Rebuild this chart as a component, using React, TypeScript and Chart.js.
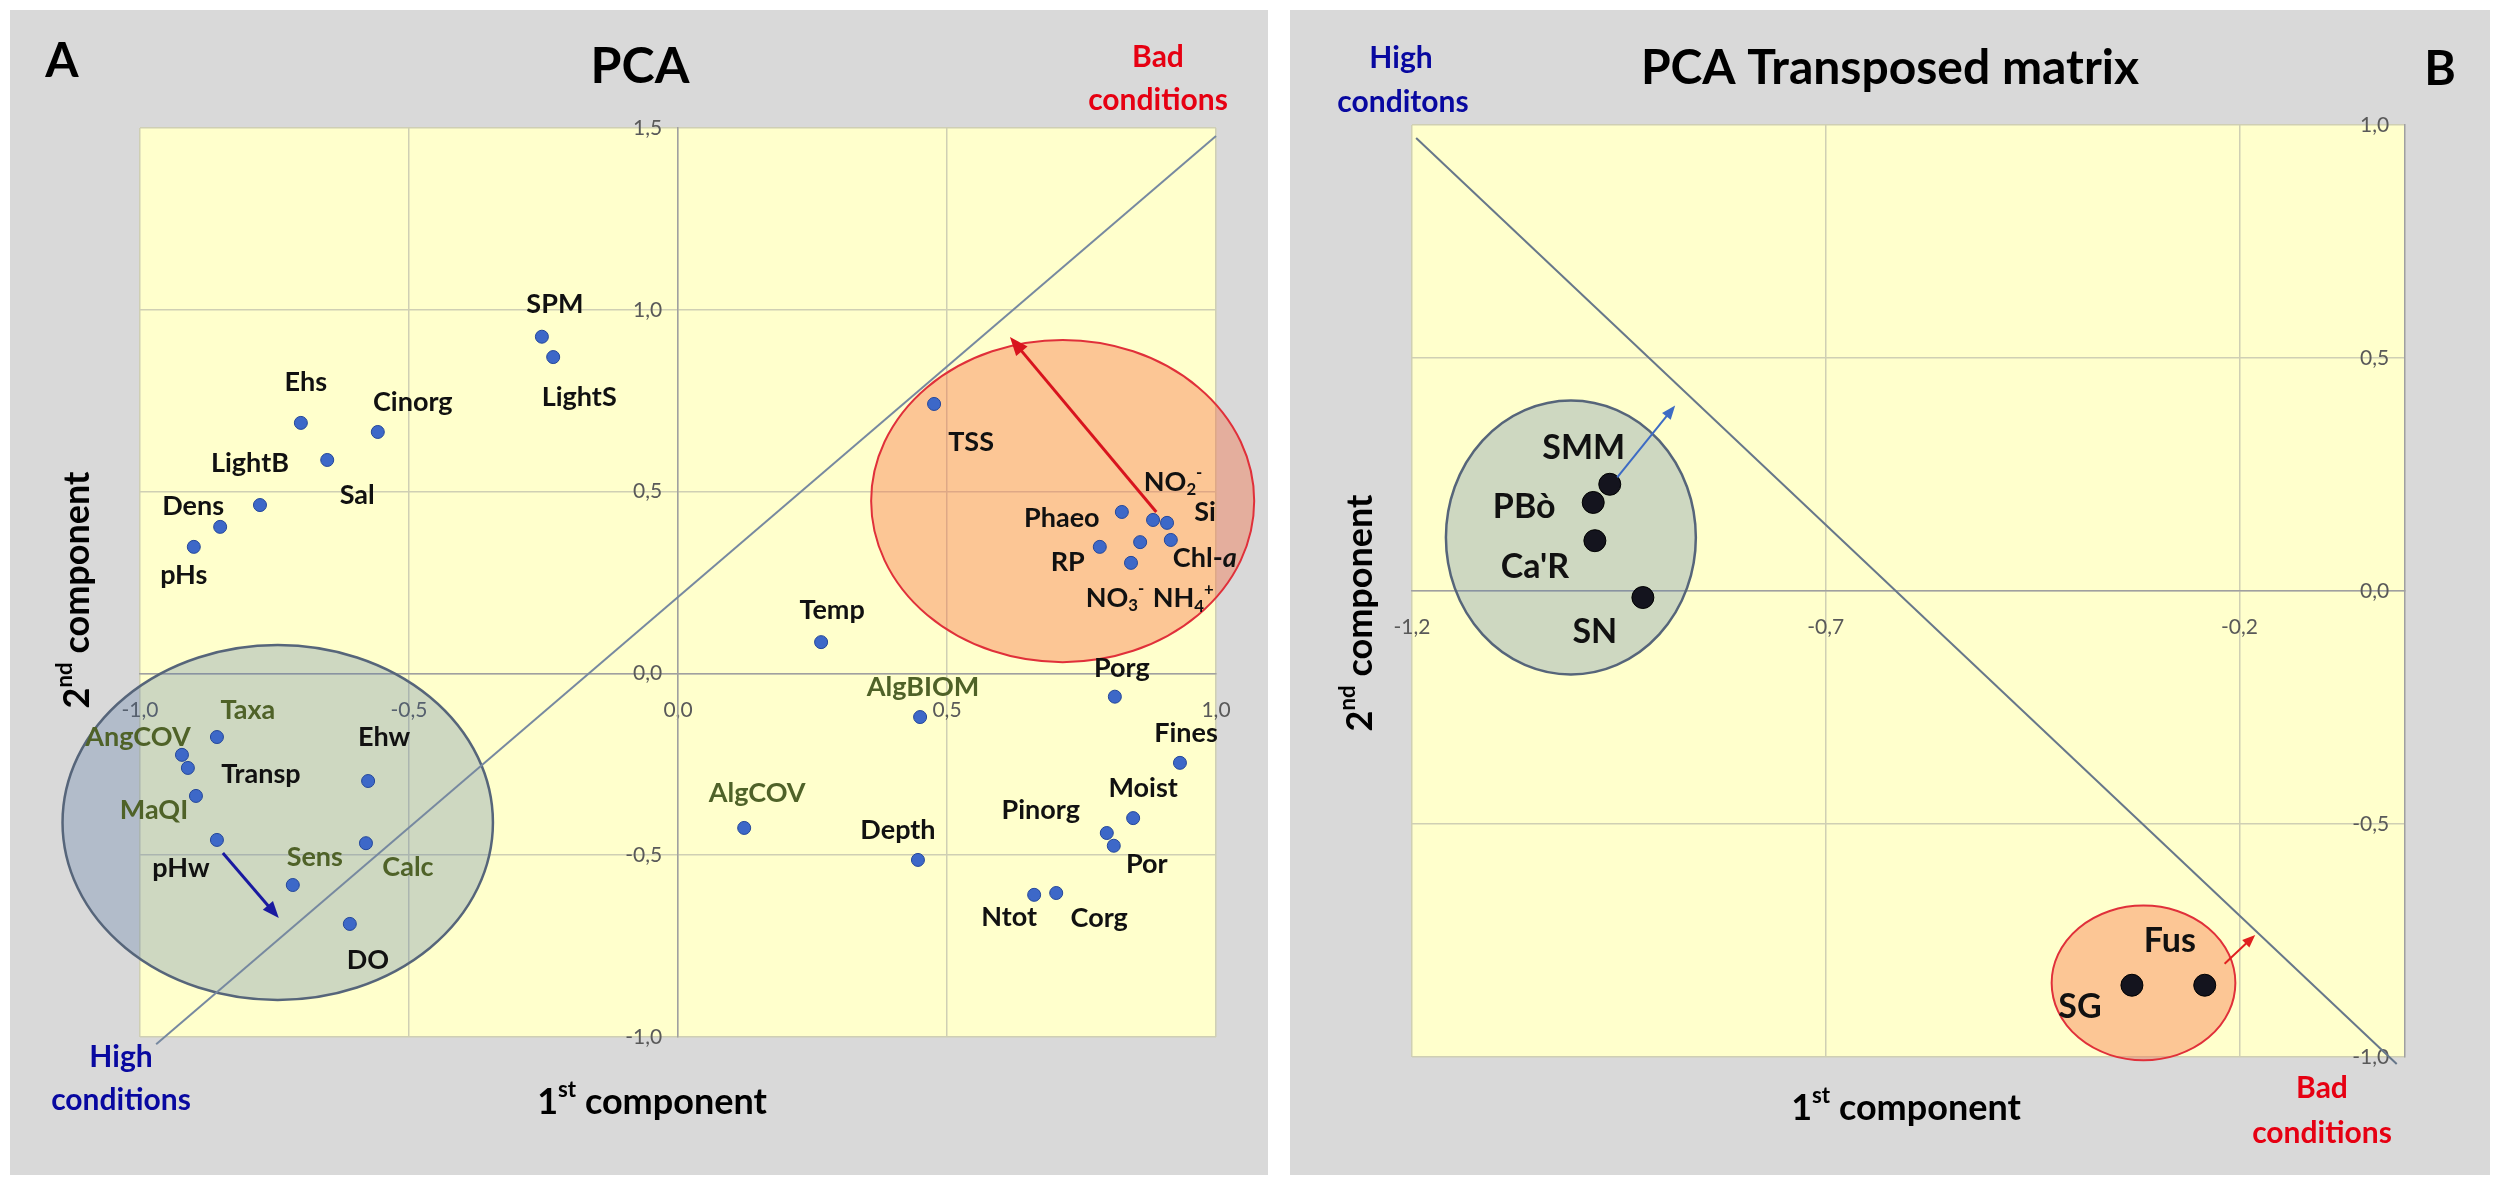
import React, { useEffect, useRef } from 'react';
import { Chart, registerables } from 'chart.js';
Chart.register(...registerables);

const FONT = "Lato, 'Open Sans', 'DejaVu Sans', sans-serif";
const PANEL_BG = '#d9d9d9';
const PLOT_BG = '#ffffcc';
const GRID = '#cfcfb4';
const AXIS = '#a0a0a0';
const TICK = '#595959';
const GREEN_TXT = '#4f6228';
const RED_TXT = '#e60012';
const BLUE_TXT = '#0808a0';

// ---------- Panel A: PCA ----------
const namesA = ['SPM', 'LightS', 'Ehs', 'Cinorg', 'Sal', 'LightB', 'Dens', 'pHs', 'TSS',
  'Phaeo', 'NO_{2}^{-}', 'Si', 'Chl-*{a}', 'NH_{4}^{+}', 'NO_{3}^{-}', 'RP',
  'Temp', 'AlgBIOM', 'Porg', 'Fines', 'AlgCOV', 'Depth', 'Moist', 'Pinorg', 'Por', 'Ntot', 'Corg',
  'Taxa', 'AngCOV', 'Transp', 'MaQI', 'pHw', 'Ehw', 'Calc', 'Sens', 'DO'];
const pc1A = [-0.253, -0.232, -0.701, -0.558, -0.652, -0.777, -0.851, -0.9, 0.476,
  0.825, 0.883, 0.909, 0.916, 0.859, 0.842, 0.784,
  0.266, 0.45, 0.812, 0.933, 0.123, 0.446, 0.846, 0.797, 0.81, 0.662, 0.703,
  -0.857, -0.922, -0.911, -0.896, -0.857, -0.576, -0.58, -0.716, -0.61];
const pc2A = [0.926, 0.87, 0.689, 0.664, 0.587, 0.463, 0.403, 0.348, 0.741,
  0.444, 0.422, 0.414, 0.367, 0.361, 0.304, 0.348,
  0.086, -0.12, -0.064, -0.246, -0.425, -0.513, -0.398, -0.439, -0.474, -0.609, -0.604,
  -0.175, -0.224, -0.26, -0.337, -0.458, -0.296, -0.467, -0.582, -0.689];
const bioticA = ['Taxa', 'AngCOV', 'MaQI', 'Sens', 'Calc', 'AlgBIOM', 'AlgCOV'];
const xTicksA = [-1, -0.5, 0, 0.5, 1];
const yTicksA = [-1, -0.5, 0, 0.5, 1, 1.5];
const diagAx = [-0.97, 1.0];
const diagAy = [-1.02, 1.478];
// ellipses: cx, cy, rx, ry
const greenEllA = [-0.744, -0.41, 0.4, 0.488];
const redEllA = [0.715, 0.474, 0.356, 0.443];
// arrows: x1, y1, x2, y2
const blueArrowA = [-0.846, -0.494, -0.742, -0.673];
const redArrowA = [0.889, 0.444, 0.617, 0.925];

// label placement (px offsets from the point), same order as namesA
const labelOffA: number[][] = [
  [13, -32], [26, 40], [5, -41], [35, -30], [30, 35], [-10, -42], [-27, -21], [-10, 28], [37, 38],
  [-60, 6], [20, -38], [38, -11], [34, 18], [43, 56], [-16, 35], [-32, 15],
  [11, -32], [3, -30], [7, -28], [6, -30], [13, -35], [-20, -30], [10, -30], [-66, -23], [33, 19], [-25, 22], [43, 25],
  [31, -27], [-44, -18], [73, 6], [-42, 14], [-36, 28], [16, -44], [42, 24], [22, -28], [18, 36]];

// ---------- Panel B: PCA transposed ----------
const sitesB = ['SMM', 'PBò', "Ca'R", 'SN', 'Fus', 'SG'];
const pc1B = [-0.961, -0.981, -0.979, -0.921, -0.242, -0.33];
const pc2B = [0.229, 0.19, 0.108, -0.014, -0.846, -0.846];
const xTicksB = [-1.2, -0.7, -0.2];
const yTicksB = [-1, -0.5, 0, 0.5, 1];
const diagBx = [-1.195, -0.01];
const diagBy = [0.972, -1.015];
const greenEllB = [-1.008, 0.115, 0.151, 0.294];
const redEllB = [-0.316, -0.841, 0.111, 0.166];
const blueArrowB = [-0.952, 0.244, -0.882, 0.398];
const redArrowB = [-0.218, -0.8, -0.181, -0.738];
const labelOffB: number[][] = [[-26, -36], [-69, 5], [-60, 26], [-48, 35], [-35, -44], [-52, 22]];

// ---------- helpers ----------
type Seg = { t: string; k: 'n' | 'sub' | 'sup' | 'it' };
function parseRich(s: string): Seg[] {
  const out: Seg[] = [];
  const re = /([_^*])\{([^}]*)\}/g;
  let last = 0;
  let m: RegExpExecArray | null;
  while ((m = re.exec(s))) {
    if (m.index > last) out.push({ t: s.slice(last, m.index), k: 'n' });
    out.push({ t: m[2], k: m[1] === '_' ? 'sub' : m[1] === '^' ? 'sup' : 'it' });
    last = re.lastIndex;
  }
  if (last < s.length) out.push({ t: s.slice(last), k: 'n' });
  return out;
}

function drawRich(ctx: CanvasRenderingContext2D, text: string, x: number, y: number, size: number,
  color: string, align: 'left' | 'center' | 'right' = 'center', weight = 'bold') {
  const segs = parseRich(text);
  const fontFor = (k: string) => {
    const sz = k === 'sub' || k === 'sup' ? size * 0.62 : size;
    return `${k === 'it' ? 'italic ' : ''}${weight} ${sz}px ${FONT}`;
  };
  let total = 0;
  const widths = segs.map((sg) => {
    ctx.font = fontFor(sg.k);
    const w = ctx.measureText(sg.t).width;
    total += w;
    return w;
  });
  let cx = align === 'center' ? x - total / 2 : align === 'right' ? x - total : x;
  ctx.fillStyle = color;
  ctx.textBaseline = 'middle';
  ctx.textAlign = 'left';
  segs.forEach((sg, i) => {
    ctx.font = fontFor(sg.k);
    const dy = sg.k === 'sub' ? size * 0.3 : sg.k === 'sup' ? -size * 0.33 : 0;
    ctx.fillText(sg.t, cx, y + dy);
    cx += widths[i];
  });
}

function drawEllipse(chart: any, e: number[], fill: string, stroke: string, lw: number) {
  const { ctx, scales } = chart;
  const cx = scales.x.getPixelForValue(e[0]);
  const cy = scales.y.getPixelForValue(e[1]);
  const rx = Math.abs(scales.x.getPixelForValue(e[0] + e[2]) - cx);
  const ry = Math.abs(scales.y.getPixelForValue(e[1] + e[3]) - cy);
  ctx.save();
  ctx.beginPath();
  ctx.ellipse(cx, cy, rx, ry, 0, 0, Math.PI * 2);
  ctx.fillStyle = fill;
  ctx.fill();
  ctx.lineWidth = lw;
  ctx.strokeStyle = stroke;
  ctx.stroke();
  ctx.restore();
}

function drawArrow(chart: any, a: number[], color: string, lw: number, head: number) {
  const { ctx, scales } = chart;
  const x1 = scales.x.getPixelForValue(a[0]);
  const y1 = scales.y.getPixelForValue(a[1]);
  const x2 = scales.x.getPixelForValue(a[2]);
  const y2 = scales.y.getPixelForValue(a[3]);
  const ang = Math.atan2(y2 - y1, x2 - x1);
  ctx.save();
  ctx.strokeStyle = color;
  ctx.fillStyle = color;
  ctx.lineWidth = lw;
  ctx.beginPath();
  ctx.moveTo(x1, y1);
  ctx.lineTo(x2 - Math.cos(ang) * head * 0.8, y2 - Math.sin(ang) * head * 0.8);
  ctx.stroke();
  ctx.beginPath();
  ctx.moveTo(x2, y2);
  ctx.lineTo(x2 - head * Math.cos(ang - 0.38), y2 - head * Math.sin(ang - 0.38));
  ctx.lineTo(x2 - head * Math.cos(ang + 0.38), y2 - head * Math.sin(ang + 0.38));
  ctx.closePath();
  ctx.fill();
  ctx.restore();
}

const fmt = (v: any) => Number(v).toFixed(1).replace('.', ',');
// y labels are right-aligned on the crossing axis: add an em space as a gap
const fmtY = (v: any) => fmt(v) + '\u2003';

const bgPlugin = {
  id: 'bgPlugin',
  beforeDraw(chart: any) {
    const { ctx, chartArea } = chart;
    ctx.save();
    ctx.fillStyle = PANEL_BG;
    ctx.fillRect(0, 0, chart.width, chart.height);
    ctx.fillStyle = PLOT_BG;
    ctx.fillRect(chartArea.left, chartArea.top, chartArea.right - chartArea.left, chartArea.bottom - chartArea.top);
    ctx.restore();
  },
};

function axisScales(xmin: number, xmax: number, ymin: number, ymax: number, xt: number[], yt: number[], yCross: number, xCross: number) {
  const tickFont = { family: FONT, size: 21 };
  return {
    x: {
      type: 'linear', min: xmin, max: xmax, position: { y: yCross },
      afterBuildTicks: (ax: any) => { ax.ticks = xt.map((v) => ({ value: v })); },
      grid: { color: GRID, lineWidth: 1.5, drawTicks: false },
      border: { display: true, color: AXIS, width: 1.5 },
      ticks: { color: TICK, font: tickFont, padding: 24, maxRotation: 0, callback: fmt },
    },
    y: {
      type: 'linear', min: ymin, max: ymax, position: { x: xCross },
      afterBuildTicks: (ax: any) => { ax.ticks = yt.map((v) => ({ value: v })); },
      grid: { color: GRID, lineWidth: 1.5, drawTicks: false },
      border: { display: true, color: AXIS, width: 1.5 },
      ticks: { color: TICK, font: tickFont, padding: 20, callback: fmtY },
    },
  };
}

function buildA(canvas: HTMLCanvasElement) {
  const pts = pc1A.map((x, i) => ({ x, y: pc2A[i] }));
  const diag = diagAx.map((x, i) => ({ x, y: diagAy[i] }));
  const plug = {
    id: 'panelA',
    beforeDatasetsDraw(chart: any) {
      drawEllipse(chart, greenEllA, 'rgba(80,115,165,0.28)', '#56657a', 2.5);
      drawEllipse(chart, redEllA, 'rgba(246,105,60,0.38)', '#e0303a', 2);
    },
    afterDatasetsDraw(chart: any) {
      const { ctx, scales } = chart;
      drawArrow(chart, blueArrowA, '#1a1aa0', 3, 18);
      drawArrow(chart, redArrowA, '#d8141e', 3, 20);
      namesA.forEach((n, i) => {
        const px = scales.x.getPixelForValue(pc1A[i]) + labelOffA[i][0];
        const py = scales.y.getPixelForValue(pc2A[i]) + labelOffA[i][1];
        drawRich(ctx, n, px, py, 27, bioticA.includes(n) ? GREEN_TXT : '#111111');
      });
    },
    afterDraw(chart: any) {
      const { ctx } = chart;
      ctx.save();
      drawRich(ctx, 'A', 52, 52, 48, '#000');
      drawRich(ctx, 'PCA', 630, 57, 50, '#000');
      drawRich(ctx, 'Bad', 1148, 47, 30, RED_TXT);
      drawRich(ctx, 'conditions', 1148, 90, 30, RED_TXT);
      drawRich(ctx, 'High', 111, 1047, 30, BLUE_TXT);
      drawRich(ctx, 'conditions', 111, 1090, 30, BLUE_TXT);
      drawRich(ctx, '1^{st} component', 642, 1092, 36, '#000');
      ctx.translate(67, 580);
      ctx.rotate(-Math.PI / 2);
      drawRich(ctx, '2^{nd} component', 0, 0, 36, '#000');
      ctx.restore();
    },
  };
  return new Chart(canvas, {
    type: 'scatter',
    data: {
      datasets: [
        { data: pts, pointRadius: 6.5, pointBackgroundColor: '#3d68c8', pointBorderColor: '#24479a', pointBorderWidth: 1 },
        { data: diag, showLine: true, pointRadius: 0, borderColor: '#7789a0', borderWidth: 2, clip: false } as any,
      ],
    },
    options: {
      animation: false, responsive: true, maintainAspectRatio: false,
      layout: { padding: { left: 130, right: 52, top: 118, bottom: 138 } },
      plugins: { legend: { display: false }, tooltip: { enabled: false }, title: { display: false } },
      scales: axisScales(-1, 1, -1, 1.5, xTicksA, yTicksA, 0, 0) as any,
    },
    plugins: [bgPlugin, plug],
  });
}

function buildB(canvas: HTMLCanvasElement) {
  const pts = pc1B.map((x, i) => ({ x, y: pc2B[i] }));
  const diag = diagBx.map((x, i) => ({ x, y: diagBy[i] }));
  const plug = {
    id: 'panelB',
    beforeDatasetsDraw(chart: any) {
      drawEllipse(chart, greenEllB, 'rgba(80,115,165,0.28)', '#56657a', 2.5);
      drawEllipse(chart, redEllB, 'rgba(246,105,60,0.38)', '#e0303a', 2);
    },
    afterDatasetsDraw(chart: any) {
      const { ctx, scales } = chart;
      drawArrow(chart, blueArrowB, '#3d6bc4', 2, 15);
      drawArrow(chart, redArrowB, '#e02020', 2, 14);
      sitesB.forEach((n, i) => {
        const px = scales.x.getPixelForValue(pc1B[i]) + labelOffB[i][0];
        const py = scales.y.getPixelForValue(pc2B[i]) + labelOffB[i][1];
        drawRich(ctx, n, px, py, 34, '#111111');
      });
    },
    afterDraw(chart: any) {
      const { ctx } = chart;
      ctx.save();
      drawRich(ctx, 'PCA Transposed matrix', 600, 59, 48, '#000');
      drawRich(ctx, 'B', 1150, 60, 48, '#000');
      drawRich(ctx, 'High', 111, 48, 30, BLUE_TXT);
      drawRich(ctx, 'conditons', 113, 92, 30, BLUE_TXT);
      drawRich(ctx, 'Bad', 1032, 1078, 30, RED_TXT);
      drawRich(ctx, 'conditions', 1032, 1123, 30, RED_TXT);
      drawRich(ctx, '1^{st} component', 616, 1098, 36, '#000');
      ctx.translate(70, 603);
      ctx.rotate(-Math.PI / 2);
      drawRich(ctx, '2^{nd} component', 0, 0, 36, '#000');
      ctx.restore();
    },
  };
  return new Chart(canvas, {
    type: 'scatter',
    data: {
      datasets: [
        { data: pts, pointRadius: 11, pointBackgroundColor: '#14141e', pointBorderColor: '#000000', pointBorderWidth: 1 },
        { data: diag, showLine: true, pointRadius: 0, borderColor: '#67778a', borderWidth: 2, clip: false } as any,
      ],
    },
    options: {
      animation: false, responsive: true, maintainAspectRatio: false,
      layout: { padding: { left: 122, right: 85, top: 115, bottom: 118 } },
      plugins: { legend: { display: false }, tooltip: { enabled: false }, title: { display: false } },
      scales: axisScales(-1.2, 0, -1, 1, xTicksB, yTicksB, 0, 0) as any,
    },
    plugins: [bgPlugin, plug],
  });
}

export default function App() {
  const refA = useRef<HTMLCanvasElement>(null);
  const refB = useRef<HTMLCanvasElement>(null);
  useEffect(() => {
    document.body.style.margin = '0';
    const a = buildA(refA.current as HTMLCanvasElement);
    const b = buildB(refB.current as HTMLCanvasElement);
    return () => { a.destroy(); b.destroy(); };
  }, []);
  return (
    <div style={{ position: 'relative', width: 2500, height: 1187, background: '#ffffff', overflow: 'hidden' }}>
      <div style={{ position: 'absolute', left: 10, top: 10, width: 1258, height: 1165 }}>
        <canvas ref={refA} />
      </div>
      <div style={{ position: 'absolute', left: 1290, top: 10, width: 1200, height: 1165 }}>
        <canvas ref={refB} />
      </div>
    </div>
  );
}
